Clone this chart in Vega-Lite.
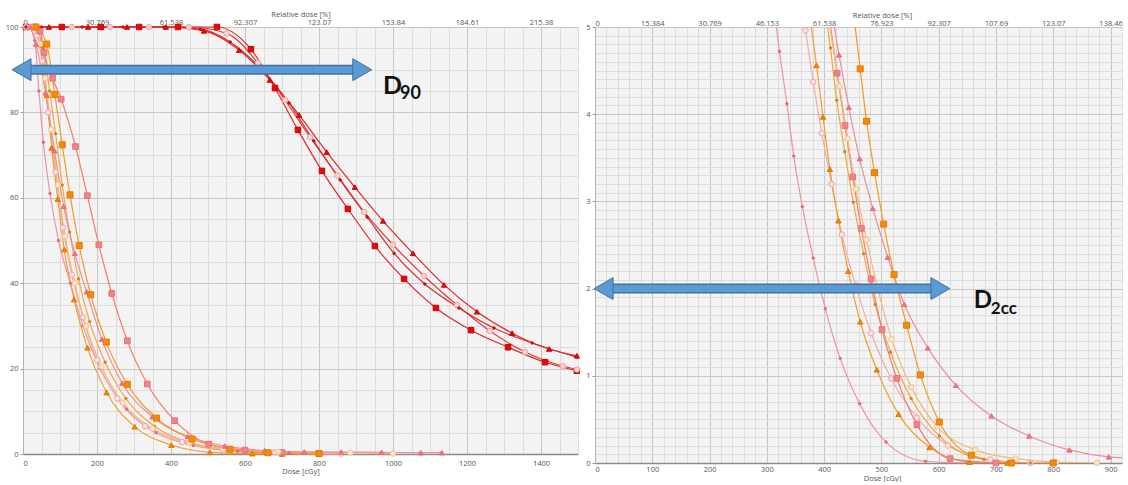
{
"$schema":"https://vega.github.io/schema/vega-lite/v6.json",
"padding":{"left":0,"top":0,"right":0,"bottom":0},
"columns":2,
"align":"none",
"spacing":1,
"background":"white",
"config":{
"view":{"fill":"#f3f3f3","stroke":null},
"axis":{"labelFont":"Open Sans","labelFontSize":7.5,"labelColor":"#555555","titleFont":"Open Sans","titleFontSize":7.5,"titleFontWeight":"normal","titleColor":"#555555"}
},
"datasets":{
"a":[
{"p":"L","k":"arrow","x":-4,"x2":917,"y":90},
{"p":"R","k":"arrow","x":15,"x2":603,"y":2},
{"p":"L","k":"D","x":973,"y":84.3,"t":"D"},
{"p":"L","k":"sub","x":1019,"y":83.1,"t":"90"},
{"p":"R","k":"D","x":661,"y":1.78,"t":"D"},
{"p":"R","k":"sub","x":691,"y":1.71,"t":"2cc"}
],
"c":[
{"p":"L","s":"R1","d":8,"v":100},{"p":"L","s":"R1","d":105,"v":100},{"p":"L","s":"R1","d":210,"v":100},{"p":"L","s":"R1","d":314,"v":100},{"p":"L","s":"R1","d":419,"v":100},{"p":"L","s":"R1","d":524,"v":100},{"p":"L","s":"R1","d":616,"v":94.8},{"p":"L","s":"R1","d":681,"v":85.7},{"p":"L","s":"R1","d":743,"v":75.9},{"p":"L","s":"R1","d":808,"v":66.3},{"p":"L","s":"R1","d":878,"v":57.4},{"p":"L","s":"R1","d":951,"v":48.7},{"p":"L","s":"R1","d":1030,"v":41.0},{"p":"L","s":"R1","d":1116,"v":34.2},{"p":"L","s":"R1","d":1211,"v":29.0},{"p":"L","s":"R1","d":1311,"v":25.0},{"p":"L","s":"R1","d":1411,"v":21.5},{"p":"L","s":"R1","d":1497,"v":19.5},
{"p":"L","s":"R2","d":8,"v":100},{"p":"L","s":"R2","d":70,"v":100},{"p":"L","s":"R2","d":176,"v":100},{"p":"L","s":"R2","d":281,"v":100},{"p":"L","s":"R2","d":386,"v":100},{"p":"L","s":"R2","d":489,"v":99.1},{"p":"L","s":"R2","d":584,"v":94.6},{"p":"L","s":"R2","d":667,"v":87.6},{"p":"L","s":"R2","d":746,"v":79.4},{"p":"L","s":"R2","d":821,"v":70.7},{"p":"L","s":"R2","d":897,"v":62.5},{"p":"L","s":"R2","d":973,"v":54.6},{"p":"L","s":"R2","d":1054,"v":47.0},{"p":"L","s":"R2","d":1138,"v":39.6},{"p":"L","s":"R2","d":1227,"v":33.3},{"p":"L","s":"R2","d":1322,"v":28.3},{"p":"L","s":"R2","d":1422,"v":24.6},{"p":"L","s":"R2","d":1497,"v":23.0},
{"p":"L","s":"R3","d":8,"v":100},{"p":"L","s":"R3","d":132,"v":100},{"p":"L","s":"R3","d":235,"v":100},{"p":"L","s":"R3","d":340,"v":100},{"p":"L","s":"R3","d":448,"v":100},{"p":"L","s":"R3","d":550,"v":98.5},{"p":"L","s":"R3","d":635,"v":91.6},{"p":"L","s":"R3","d":708,"v":82.9},{"p":"L","s":"R3","d":776,"v":74.2},{"p":"L","s":"R3","d":850,"v":65.2},{"p":"L","s":"R3","d":922,"v":56.7},{"p":"L","s":"R3","d":1000,"v":49.0},{"p":"L","s":"R3","d":1084,"v":41.7},{"p":"L","s":"R3","d":1173,"v":34.9},{"p":"L","s":"R3","d":1262,"v":28.8},{"p":"L","s":"R3","d":1357,"v":23.9},{"p":"L","s":"R3","d":1459,"v":20.6},{"p":"L","s":"R3","d":1497,"v":19.8},
{"p":"L","s":"R4","d":8,"v":100},{"p":"L","s":"R4","d":50,"v":100},{"p":"L","s":"R4","d":160,"v":100},{"p":"L","s":"R4","d":270,"v":100},{"p":"L","s":"R4","d":380,"v":100},{"p":"L","s":"R4","d":480,"v":99.5},{"p":"L","s":"R4","d":560,"v":96.5},{"p":"L","s":"R4","d":640,"v":90.5},{"p":"L","s":"R4","d":719,"v":82.2},{"p":"L","s":"R4","d":786,"v":73.3},{"p":"L","s":"R4","d":857,"v":64.2},{"p":"L","s":"R4","d":930,"v":55.5},{"p":"L","s":"R4","d":1003,"v":47.0},{"p":"L","s":"R4","d":1086,"v":39.8},{"p":"L","s":"R4","d":1178,"v":34.2},{"p":"L","s":"R4","d":1273,"v":29.5},{"p":"L","s":"R4","d":1376,"v":26.0},{"p":"L","s":"R4","d":1497,"v":22.7},
{"p":"L","s":"A","d":18,"v":100},{"p":"L","s":"A","d":32,"v":96.8},{"p":"L","s":"A","d":43,"v":85},{"p":"L","s":"A","d":55,"v":73},{"p":"L","s":"A","d":73,"v":61},{"p":"L","s":"A","d":96,"v":50},{"p":"L","s":"A","d":128,"v":40},{"p":"L","s":"A","d":162,"v":30},{"p":"L","s":"A","d":208,"v":20},{"p":"L","s":"A","d":280,"v":10.5},{"p":"L","s":"A","d":360,"v":5},{"p":"L","s":"A","d":460,"v":2},{"p":"L","s":"A","d":580,"v":0.6},{"p":"L","s":"A","d":720,"v":0.2},{"p":"L","s":"A","d":860,"v":0},
{"p":"L","s":"B","d":22,"v":100},{"p":"L","s":"B","d":38,"v":98},{"p":"L","s":"B","d":52,"v":92},{"p":"L","s":"B","d":68,"v":80},{"p":"L","s":"B","d":88,"v":66},{"p":"L","s":"B","d":108,"v":53},{"p":"L","s":"B","d":132,"v":42},{"p":"L","s":"B","d":162,"v":32},{"p":"L","s":"B","d":200,"v":22},{"p":"L","s":"B","d":255,"v":13},{"p":"L","s":"B","d":330,"v":6.5},{"p":"L","s":"B","d":430,"v":2.8},{"p":"L","s":"B","d":540,"v":1.1},{"p":"L","s":"B","d":680,"v":0.4},{"p":"L","s":"B","d":860,"v":0.1},
{"p":"L","s":"C","d":30,"v":100},{"p":"L","s":"C","d":51,"v":95.8},{"p":"L","s":"C","d":64,"v":84},{"p":"L","s":"C","d":77.5,"v":71.7},{"p":"L","s":"C","d":94,"v":59.7},{"p":"L","s":"C","d":111.5,"v":47.9},{"p":"L","s":"C","d":138,"v":36.2},{"p":"L","s":"C","d":174,"v":24.9},{"p":"L","s":"C","d":226,"v":14.4},{"p":"L","s":"C","d":302,"v":6.4},{"p":"L","s":"C","d":401,"v":2.1},{"p":"L","s":"C","d":505,"v":0.4},{"p":"L","s":"C","d":620,"v":0.1},{"p":"L","s":"C","d":700,"v":0},
{"p":"L","s":"D","d":35,"v":100},{"p":"L","s":"D","d":55,"v":95},{"p":"L","s":"D","d":72,"v":85},{"p":"L","s":"D","d":88,"v":75},{"p":"L","s":"D","d":106,"v":63},{"p":"L","s":"D","d":126,"v":52},{"p":"L","s":"D","d":150,"v":41},{"p":"L","s":"D","d":180,"v":31},{"p":"L","s":"D","d":222,"v":21.5},{"p":"L","s":"D","d":278,"v":13},{"p":"L","s":"D","d":355,"v":6.5},{"p":"L","s":"D","d":455,"v":2.6},{"p":"L","s":"D","d":565,"v":0.8},{"p":"L","s":"D","d":690,"v":0.2},{"p":"L","s":"D","d":800,"v":0},
{"p":"L","s":"E","d":30,"v":100},{"p":"L","s":"E","d":46,"v":99},{"p":"L","s":"E","d":57,"v":94},{"p":"L","s":"E","d":80,"v":88},{"p":"L","s":"E","d":103,"v":83.1},{"p":"L","s":"E","d":142,"v":72},{"p":"L","s":"E","d":174,"v":60.5},{"p":"L","s":"E","d":205,"v":49},{"p":"L","s":"E","d":240,"v":37.6},{"p":"L","s":"E","d":282,"v":26.5},{"p":"L","s":"E","d":336,"v":16.4},{"p":"L","s":"E","d":410,"v":7.8},{"p":"L","s":"E","d":502,"v":2.3},{"p":"L","s":"E","d":600,"v":0.9},{"p":"L","s":"E","d":700,"v":0.35},{"p":"L","s":"E","d":800,"v":0.1},
{"p":"L","s":"F","d":28,"v":100},{"p":"L","s":"F","d":46,"v":96},{"p":"L","s":"F","d":60,"v":88},{"p":"L","s":"F","d":76,"v":76},{"p":"L","s":"F","d":94,"v":63},{"p":"L","s":"F","d":114,"v":51},{"p":"L","s":"F","d":140,"v":40},{"p":"L","s":"F","d":170,"v":30},{"p":"L","s":"F","d":212,"v":20.5},{"p":"L","s":"F","d":270,"v":12},{"p":"L","s":"F","d":350,"v":6},{"p":"L","s":"F","d":450,"v":2.6},{"p":"L","s":"F","d":560,"v":1.0},{"p":"L","s":"F","d":690,"v":0.5},{"p":"L","s":"F","d":885,"v":0.3},{"p":"L","s":"F","d":1000,"v":0.1},
{"p":"L","s":"G","d":20,"v":100},{"p":"L","s":"G","d":35,"v":96},{"p":"L","s":"G","d":61,"v":84.6},{"p":"L","s":"G","d":85,"v":71},{"p":"L","s":"G","d":110,"v":58},{"p":"L","s":"G","d":140,"v":47},{"p":"L","s":"G","d":172,"v":38},{"p":"L","s":"G","d":213,"v":26.9},{"p":"L","s":"G","d":268,"v":16.6},{"p":"L","s":"G","d":350,"v":8.7},{"p":"L","s":"G","d":445,"v":4.1},{"p":"L","s":"G","d":545,"v":1.9},{"p":"L","s":"G","d":653,"v":0.8},{"p":"L","s":"G","d":760,"v":0.5},{"p":"L","s":"G","d":860,"v":0.45},{"p":"L","s":"G","d":969,"v":0.4},{"p":"L","s":"G","d":1075,"v":0.3},{"p":"L","s":"G","d":1132,"v":0.3},
{"p":"L","s":"H","d":35,"v":100},{"p":"L","s":"H","d":64,"v":96},{"p":"L","s":"H","d":86,"v":84.2},{"p":"L","s":"H","d":106,"v":72.4},{"p":"L","s":"H","d":127,"v":60.7},{"p":"L","s":"H","d":152,"v":48.8},{"p":"L","s":"H","d":183,"v":37.3},{"p":"L","s":"H","d":225,"v":26.2},{"p":"L","s":"H","d":282,"v":16.3},{"p":"L","s":"H","d":361,"v":8.4},{"p":"L","s":"H","d":457,"v":3.5},{"p":"L","s":"H","d":559,"v":1.1},{"p":"L","s":"H","d":662,"v":0.3},{"p":"L","s":"H","d":800,"v":0.1},
{"p":"R","s":"A","d":305,"v":5.6},{"p":"R","s":"A","d":322,"v":4.72},{"p":"R","s":"A","d":335,"v":4.12},{"p":"R","s":"A","d":347,"v":3.52},{"p":"R","s":"A","d":362,"v":2.94},{"p":"R","s":"A","d":381,"v":2.35},{"p":"R","s":"A","d":402,"v":1.77},{"p":"R","s":"A","d":428,"v":1.2},{"p":"R","s":"A","d":462,"v":0.68},{"p":"R","s":"A","d":508,"v":0.24},{"p":"R","s":"A","d":577,"v":0.02},{"p":"R","s":"A","d":650,"v":0},
{"p":"R","s":"B","d":355,"v":5.5},{"p":"R","s":"B","d":367.5,"v":4.96},{"p":"R","s":"B","d":381,"v":4.37},{"p":"R","s":"B","d":396,"v":3.78},{"p":"R","s":"B","d":413,"v":3.2},{"p":"R","s":"B","d":431,"v":2.62},{"p":"R","s":"B","d":455,"v":2.04},{"p":"R","s":"B","d":482,"v":1.49},{"p":"R","s":"B","d":517,"v":0.97},{"p":"R","s":"B","d":562,"v":0.52},{"p":"R","s":"B","d":616,"v":0.2},{"p":"R","s":"B","d":690,"v":0.04},{"p":"R","s":"B","d":760,"v":0},
{"p":"R","s":"C","d":370,"v":5.37},{"p":"R","s":"C","d":386.7,"v":4.56},{"p":"R","s":"C","d":398,"v":3.97},{"p":"R","s":"C","d":410,"v":3.37},{"p":"R","s":"C","d":425,"v":2.78},{"p":"R","s":"C","d":442,"v":2.2},{"p":"R","s":"C","d":463,"v":1.62},{"p":"R","s":"C","d":492,"v":1.07},{"p":"R","s":"C","d":530,"v":0.56},{"p":"R","s":"C","d":584,"v":0.18},{"p":"R","s":"C","d":654,"v":0.01},{"p":"R","s":"C","d":720,"v":0},
{"p":"R","s":"D","d":400,"v":5.3},{"p":"R","s":"D","d":411,"v":4.76},{"p":"R","s":"D","d":422,"v":4.16},{"p":"R","s":"D","d":436,"v":3.57},{"p":"R","s":"D","d":451,"v":2.99},{"p":"R","s":"D","d":469,"v":2.4},{"p":"R","s":"D","d":489,"v":1.82},{"p":"R","s":"D","d":516,"v":1.27},{"p":"R","s":"D","d":552,"v":0.74},{"p":"R","s":"D","d":601,"v":0.31},{"p":"R","s":"D","d":679,"v":0.04},{"p":"R","s":"D","d":760,"v":0},
{"p":"R","s":"E","d":405,"v":5.3},{"p":"R","s":"E","d":422.6,"v":4.47},{"p":"R","s":"E","d":436.5,"v":3.87},{"p":"R","s":"E","d":450,"v":3.28},{"p":"R","s":"E","d":465,"v":2.69},{"p":"R","s":"E","d":482,"v":2.11},{"p":"R","s":"E","d":501,"v":1.53},{"p":"R","s":"E","d":527,"v":0.97},{"p":"R","s":"E","d":562,"v":0.44},{"p":"R","s":"E","d":620,"v":0.05},{"p":"R","s":"E","d":700,"v":0},
{"p":"R","s":"F","d":400,"v":5.4},{"p":"R","s":"F","d":427,"v":4.32},{"p":"R","s":"F","d":441,"v":3.72},{"p":"R","s":"F","d":456,"v":3.14},{"p":"R","s":"F","d":474,"v":2.56},{"p":"R","s":"F","d":494,"v":1.99},{"p":"R","s":"F","d":518,"v":1.42},{"p":"R","s":"F","d":552,"v":0.87},{"p":"R","s":"F","d":597,"v":0.42},{"p":"R","s":"F","d":664,"v":0.15},{"p":"R","s":"F","d":734,"v":0.05},{"p":"R","s":"F","d":805,"v":0.01},{"p":"R","s":"F","d":876,"v":0},
{"p":"R","s":"G","d":408,"v":5.4},{"p":"R","s":"G","d":426,"v":4.68},{"p":"R","s":"G","d":443,"v":4.08},{"p":"R","s":"G","d":462,"v":3.49},{"p":"R","s":"G","d":485,"v":2.92},{"p":"R","s":"G","d":511,"v":2.36},{"p":"R","s":"G","d":540,"v":1.82},{"p":"R","s":"G","d":581,"v":1.32},{"p":"R","s":"G","d":630,"v":0.89},{"p":"R","s":"G","d":692,"v":0.54},{"p":"R","s":"G","d":758,"v":0.31},{"p":"R","s":"G","d":828,"v":0.15},{"p":"R","s":"G","d":897,"v":0.07},{"p":"R","s":"G","d":925,"v":0.06},
{"p":"R","s":"H","d":445,"v":5.5},{"p":"R","s":"H","d":463,"v":4.52},{"p":"R","s":"H","d":474,"v":3.92},{"p":"R","s":"H","d":488,"v":3.33},{"p":"R","s":"H","d":504,"v":2.74},{"p":"R","s":"H","d":522,"v":2.16},{"p":"R","s":"H","d":544,"v":1.58},{"p":"R","s":"H","d":568,"v":1.01},{"p":"R","s":"H","d":601,"v":0.47},{"p":"R","s":"H","d":657,"v":0.09},{"p":"R","s":"H","d":727,"v":0},{"p":"R","s":"H","d":800,"v":0}
]
},
"concat":[
{
"width":555,"height":427,
"resolve":{"axis":{"x":"independent","y":"independent"}},
"layer":[
{"data":{"name":"c"},"transform":[{"filter":"datum.p=='L'"}],
"mark":{"type":"line","interpolate":"monotone","strokeWidth":1.2},
"encoding":{
"x":{"field":"d","type":"quantitative","scale":{"domain":[0,1500],"nice":false,"zero":false},"axis":{"orient":"bottom","values":[0,50,100,150,200,250,300,350,400,450,500,550,600,650,700,750,800,850,900,950,1000,1050,1100,1150,1200,1250,1300,1350,1400,1450,1500],"grid":true,"gridColor":"#dcdcdc","labels":false,"ticks":false,"domain":false,"title":null}},
"y":{"field":"v","type":"quantitative","scale":{"domain":[0,100],"nice":false},"axis":{"orient":"left","values":[0,5,10,15,20,25,30,35,40,45,50,55,60,65,70,75,80,85,90,95,100],"grid":true,"gridColor":"#dcdcdc","labels":false,"ticks":false,"domain":false,"title":".","titleOpacity":0,"titleAngle":0,"titleX":0,"titleY":-27,"titleBaseline":"top","titleAlign":"left"}},
"color":{"field":"s","type":"nominal","scale":{"domain":["R1","R2","R3","R4","A","B","C","D","E","F","G","H"],"range":["#e3262b","#e3262b","#e4393e","#d82a2a","#f1929a","#f4a9ae","#f0a02a","#f3a640","#f27c6c","#f5b77a","#ef8c9a","#f29a26"]},"legend":null}
}},
{"data":{"name":"c"},"transform":[{"filter":"datum.p=='L'"}],
"mark":{"type":"point","filled":true,"strokeWidth":1,"opacity":1},
"encoding":{
"x":{"field":"d","type":"quantitative","axis":{"orient":"bottom","values":[0,200,400,600,800,1000,1200,1400],"format":"d","grid":true,"gridColor":"#c6c6c6","ticks":false,"domain":true,"domainColor":"#8c8c8c","domainWidth":1.5,"labelPadding":5,"title":"Dose [cGy]","titlePadding":1}},
"y":{"field":"v","type":"quantitative","axis":{"orient":"left","values":[0,20,40,60,80,100],"grid":true,"gridColor":"#c6c6c6","ticks":true,"tickSize":3,"tickColor":"#9a9a9a","domain":true,"domainColor":"#b0b0b0","labelPadding":2,"title":null,"minExtent":23,"maxExtent":23}},
"fill":{"field":"s","type":"nominal","scale":{"domain":["R1","R2","R3","R4","A","B","C","D","E","F","G","H"],"range":["#e00b0b","#e01010","#f9d4d4","#c41010","#e4697a","#fbe1e3","#ef8608","#d9801a","#f2838a","#fde6cc","#ef7487","#f58a0a"]},"legend":null},
"stroke":{"field":"s","type":"nominal","scale":{"domain":["R1","R2","R3","R4","A","B","C","D","E","F","G","H"],"range":["#d00000","#d00000","#eea2a2","#c41010","#e4697a","#efa3ab","#e07c00","#d9801a","#ea7078","#f3c08e","#ea6a7e","#e87a00"]},"legend":null},
"shape":{"field":"s","type":"nominal","scale":{"domain":["R1","R2","R3","R4","A","B","C","D","E","F","G","H"],"range":["square","triangle-up","circle","circle","circle","circle","triangle-up","circle","square","circle","triangle-up","square"]},"legend":null},
"size":{"field":"s","type":"nominal","scale":{"type":"ordinal","domain":["R1","R2","R3","R4","A","B","C","D","E","F","G","H"],"range":[30,28,30,6,6,30,30,6,32,30,26,36]},"legend":null}
}},
{"data":{"name":"a"},"transform":[{"filter":"datum.p=='L' && datum.k=='arrow'"}],
"mark":{"type":"rule","strokeWidth":10,"stroke":"#41719c"},
"encoding":{
"x":{"field":"x","type":"quantitative","axis":{"orient":"top","values":[0,200,400,600,800,1000,1200,1400],"labelExpr":"'' + (datum.value < 650 ? floor(datum.value*1000/6.5)/1000 : floor(datum.value*100/6.5)/100)","grid":false,"ticks":false,"domain":false,"labelPadding":1,"title":"Relative dose [%]","titlePadding":0}},
"x2":{"field":"x2"},
"y":{"field":"y","type":"quantitative","axis":null}
}},
{"data":{"name":"a"},"transform":[{"filter":"datum.p=='L' && datum.k=='arrow'"}],
"mark":{"type":"rule","strokeWidth":7,"stroke":"#5b9bd5"},
"encoding":{"x":{"field":"x","type":"quantitative","axis":null},"x2":{"field":"x2"},"y":{"field":"y","type":"quantitative","axis":null}}},
{"data":{"name":"a"},"transform":[{"filter":"datum.p=='L' && datum.k=='arrow'"}],
"mark":{"type":"point","shape":"triangle-left","size":480,"filled":true,"fill":"#5b9bd5","stroke":"#41719c","strokeWidth":1,"opacity":1},
"encoding":{"x":{"field":"x","type":"quantitative","axis":null},"y":{"field":"y","type":"quantitative","axis":null}}},
{"data":{"name":"a"},"transform":[{"filter":"datum.p=='L' && datum.k=='arrow'"}],
"mark":{"type":"point","shape":"triangle-right","size":480,"filled":true,"fill":"#5b9bd5","stroke":"#41719c","strokeWidth":1,"opacity":1},
"encoding":{"x":{"field":"x2","type":"quantitative","axis":null},"y":{"field":"y","type":"quantitative","axis":null}}},
{"data":{"name":"a"},"transform":[{"filter":"datum.p=='L' && datum.k=='D'"}],
"mark":{"type":"text","font":"Lato","fontWeight":"bold","fontSize":25,"align":"left","baseline":"alphabetic","color":"#111111"},
"encoding":{"x":{"field":"x","type":"quantitative","axis":null},"y":{"field":"y","type":"quantitative","axis":null},"text":{"field":"t"}}},
{"data":{"name":"a"},"transform":[{"filter":"datum.p=='L' && datum.k=='sub'"}],
"mark":{"type":"text","font":"Lato","fontWeight":"bold","fontSize":18,"align":"left","baseline":"alphabetic","color":"#111111"},
"encoding":{"x":{"field":"x","type":"quantitative","axis":null},"y":{"field":"y","type":"quantitative","axis":null},"text":{"field":"t"}}}
]
},
{
"width":527,"height":436,
"resolve":{"axis":{"x":"independent","y":"independent"}},
"layer":[
{"data":{"name":"c"},"transform":[{"filter":"datum.p=='R'"}],
"mark":{"type":"line","interpolate":"monotone","strokeWidth":1.2,"clip":true},
"encoding":{
"x":{"field":"d","type":"quantitative","scale":{"domain":[0,920],"nice":false,"zero":false},"axis":{"orient":"bottom","values":[0,20,40,60,80,100,120,140,160,180,200,220,240,260,280,300,320,340,360,380,400,420,440,460,480,500,520,540,560,580,600,620,640,660,680,700,720,740,760,780,800,820,840,860,880,900,920],"grid":true,"gridColor":"#dcdcdc","labels":false,"ticks":false,"domain":false,"title":null}},
"y":{"field":"v","type":"quantitative","scale":{"domain":[0,5],"nice":false},"axis":{"orient":"left","values":[0,0.1,0.2,0.3,0.4,0.5,0.6,0.7,0.8,0.9,1,1.1,1.2,1.3,1.4,1.5,1.6,1.7,1.8,1.9,2,2.1,2.2,2.3,2.4,2.5,2.6,2.7,2.8,2.9,3,3.1,3.2,3.3,3.4,3.5,3.6,3.7,3.8,3.9,4,4.1,4.2,4.3,4.4,4.5,4.6,4.7,4.8,4.9,5],"grid":true,"gridColor":"#dcdcdc","labels":false,"ticks":false,"domain":false,"title":null}},
"color":{"field":"s","type":"nominal","scale":{"domain":["R1","R2","R3","R4","A","B","C","D","E","F","G","H"],"range":["#e3262b","#e3262b","#e4393e","#d82a2a","#f1929a","#f4a9ae","#f0a02a","#f3a640","#f27c6c","#f5b77a","#ef8c9a","#f29a26"]},"legend":null}
}},
{"data":{"name":"c"},"transform":[{"filter":"datum.p=='R' && datum.v <= 5 && datum.d <= 920"}],
"mark":{"type":"point","filled":true,"strokeWidth":1,"opacity":1},
"encoding":{
"x":{"field":"d","type":"quantitative","axis":{"orient":"bottom","values":[0,100,200,300,400,500,600,700,800,900],"format":"d","grid":true,"gridColor":"#c6c6c6","ticks":false,"domain":true,"domainColor":"#8c8c8c","domainWidth":1.5,"labelPadding":2,"title":"Dose [cGy]","titlePadding":1.5,"titleX":287}},
"y":{"field":"v","type":"quantitative","axis":{"orient":"left","values":[0,1,2,3,4,5],"grid":true,"gridColor":"#c6c6c6","ticks":true,"tickSize":3,"tickColor":"#9a9a9a","domain":true,"domainColor":"#b0b0b0","labelPadding":2,"title":null,"minExtent":12,"maxExtent":12}},
"fill":{"field":"s","type":"nominal","scale":{"domain":["R1","R2","R3","R4","A","B","C","D","E","F","G","H"],"range":["#e00b0b","#e01010","#f9d4d4","#c41010","#e4697a","#fbe1e3","#ef8608","#d9801a","#f2838a","#fde6cc","#ef7487","#f58a0a"]},"legend":null},
"stroke":{"field":"s","type":"nominal","scale":{"domain":["R1","R2","R3","R4","A","B","C","D","E","F","G","H"],"range":["#d00000","#d00000","#eea2a2","#c41010","#e4697a","#efa3ab","#e07c00","#d9801a","#ea7078","#f3c08e","#ea6a7e","#e87a00"]},"legend":null},
"shape":{"field":"s","type":"nominal","scale":{"domain":["R1","R2","R3","R4","A","B","C","D","E","F","G","H"],"range":["square","triangle-up","circle","circle","circle","circle","triangle-up","circle","square","circle","triangle-up","square"]},"legend":null},
"size":{"field":"s","type":"nominal","scale":{"type":"ordinal","domain":["R1","R2","R3","R4","A","B","C","D","E","F","G","H"],"range":[30,28,30,6,6,30,30,6,32,30,26,36]},"legend":null}
}},
{"data":{"name":"a"},"transform":[{"filter":"datum.p=='R' && datum.k=='arrow'"}],
"mark":{"type":"rule","strokeWidth":10,"stroke":"#41719c"},
"encoding":{
"x":{"field":"x","type":"quantitative","axis":{"orient":"top","values":[0,100,200,300,400,500,600,700,800,900],"labelExpr":"'' + (datum.value < 650 ? floor(datum.value*1000/6.5)/1000 : floor(datum.value*100/6.5)/100)","grid":false,"ticks":false,"domain":false,"labelPadding":0,"title":"Relative dose [%]","titlePadding":0,"titleX":287}},
"x2":{"field":"x2"},
"y":{"field":"y","type":"quantitative","axis":null}
}},
{"data":{"name":"a"},"transform":[{"filter":"datum.p=='R' && datum.k=='arrow'"}],
"mark":{"type":"rule","strokeWidth":7,"stroke":"#5b9bd5"},
"encoding":{"x":{"field":"x","type":"quantitative","axis":null},"x2":{"field":"x2"},"y":{"field":"y","type":"quantitative","axis":null}}},
{"data":{"name":"a"},"transform":[{"filter":"datum.p=='R' && datum.k=='arrow'"}],
"mark":{"type":"point","shape":"triangle-left","size":480,"filled":true,"fill":"#5b9bd5","stroke":"#41719c","strokeWidth":1,"opacity":1},
"encoding":{"x":{"field":"x","type":"quantitative","axis":null},"y":{"field":"y","type":"quantitative","axis":null}}},
{"data":{"name":"a"},"transform":[{"filter":"datum.p=='R' && datum.k=='arrow'"}],
"mark":{"type":"point","shape":"triangle-right","size":480,"filled":true,"fill":"#5b9bd5","stroke":"#41719c","strokeWidth":1,"opacity":1},
"encoding":{"x":{"field":"x2","type":"quantitative","axis":null},"y":{"field":"y","type":"quantitative","axis":null}}},
{"data":{"name":"a"},"transform":[{"filter":"datum.p=='R' && datum.k=='D'"}],
"mark":{"type":"text","font":"Lato","fontWeight":"bold","fontSize":24,"align":"left","baseline":"alphabetic","color":"#111111"},
"encoding":{"x":{"field":"x","type":"quantitative","axis":null},"y":{"field":"y","type":"quantitative","axis":null},"text":{"field":"t"}}},
{"data":{"name":"a"},"transform":[{"filter":"datum.p=='R' && datum.k=='sub'"}],
"mark":{"type":"text","font":"Lato","fontWeight":"bold","fontSize":17,"align":"left","baseline":"alphabetic","color":"#111111"},
"encoding":{"x":{"field":"x","type":"quantitative","axis":null},"y":{"field":"y","type":"quantitative","axis":null},"text":{"field":"t"}}}
]
}
]
}
